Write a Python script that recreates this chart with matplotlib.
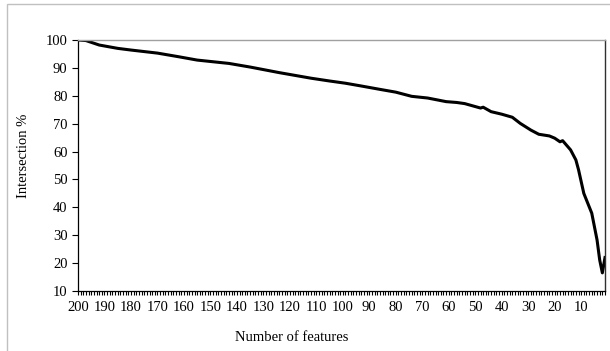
import matplotlib
matplotlib.use("Agg")
import matplotlib.pyplot as plt
from matplotlib.patches import Rectangle
from matplotlib.ticker import MultipleLocator

plt.rcParams['font.family'] = ['Liberation Serif', 'DejaVu Serif']

# number of features kept vs. intersection with the full feature set (%)
n_features = [200, 197, 192, 185, 180, 170, 162, 155, 150, 143, 135, 124, 118, 112,
              105, 99, 93, 86, 80, 74, 68, 61, 57, 54, 51, 48, 47, 44, 40, 36, 33,
              29, 26, 22, 20, 18, 17, 14, 12, 11, 9, 6, 4, 3, 2, 1]
intersection = [100, 99.8, 98.2, 97.0, 96.4, 95.3, 94.0, 92.8, 92.3, 91.6, 90.3, 88.3,
                87.3, 86.3, 85.3, 84.5, 83.5, 82.3, 81.3, 79.8, 79.2, 77.9, 77.6, 77.2,
                76.4, 75.6, 75.9, 74.3, 73.4, 72.3, 70.1, 67.7, 66.2, 65.6, 64.8, 63.5,
                63.9, 60.6, 57.0, 53.5, 45.0, 37.9, 28.3, 21.1, 16.5, 22.0]
x_ticks = list(range(200, 9, -10))
y_ticks = list(range(10, 101, 10))

fig = plt.figure(figsize=(6.10, 3.51), dpi=100)
ax = fig.add_axes([78 / 610, 1 - 291 / 351, 527 / 610, 251 / 351])

ax.plot(n_features, intersection, color='black', lw=2.2, solid_joinstyle='round')

ax.set_xlim(200, 1)
ax.set_ylim(10, 100)
ax.set_xticks(x_ticks)
ax.xaxis.set_minor_locator(MultipleLocator(1))
ax.set_yticks(y_ticks)

ax.tick_params(axis='x', which='both', direction='out', length=3.2, width=0.8,
               labelsize=10.5, pad=4)
ax.tick_params(axis='y', direction='out', length=4.5, width=0.8, labelsize=10.5, pad=3)

for side in ['left', 'bottom']:
    ax.spines[side].set_color('black')
    ax.spines[side].set_linewidth(0.9)
ax.spines['right'].set_color('#303030')
ax.spines['right'].set_linewidth(1.0)
ax.spines['top'].set_color('#a0a0a0')
ax.spines['top'].set_linewidth(1.0)

ax.set_xlabel('Number of features', fontsize=10.5)
ax.set_ylabel('Intersection %', fontsize=10.5)
ax.xaxis.set_label_coords(0.406, -0.16)
ax.yaxis.set_label_coords(-0.091, 0.54)

# outer chart frame
fig.patches.append(Rectangle((7 / 610, -0.1), 1.2, 1 - 4 / 351 + 0.1,
                             transform=fig.transFigure, fill=False,
                             edgecolor='#c0c0c0', lw=1.0))

fig.savefig('out.png', dpi=100)
